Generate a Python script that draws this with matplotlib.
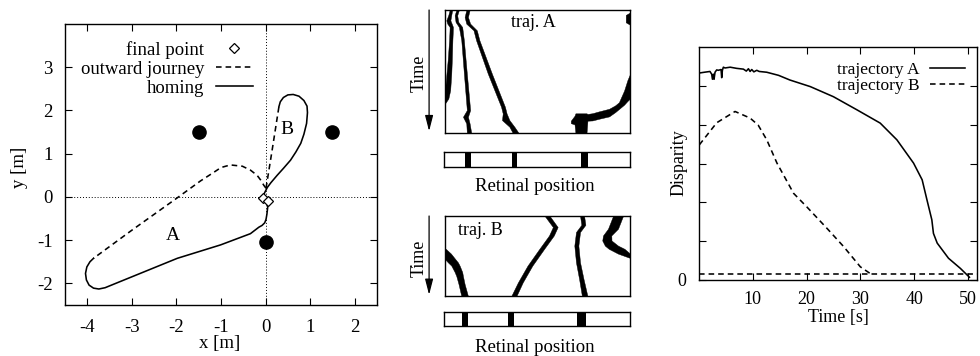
import matplotlib
matplotlib.use('Agg')
import matplotlib.pyplot as plt
from matplotlib.lines import Line2D

# ---- left panel: robot paths in the arena ----
out_a_x = [0.01, -0.04, -0.11, -0.19, -0.34, -0.52, -0.79, -1.00, -1.16, -1.46, -1.98, -3.00, -3.86]
out_a_y = [0.20, 0.27, 0.39, 0.50, 0.62, 0.71, 0.74, 0.68, 0.57, 0.37, -0.02, -0.77, -1.42]
home_a_x = [-3.86, -3.94, -4.01, -4.04, -4.02, -3.96, -3.86, -3.74, -3.60, -3.41, -1.98, -1.01,
            -0.34, -0.15, -0.08, -0.02, 0.01, 0.03, 0.05, 0.06]
home_a_y = [-1.42, -1.50, -1.62, -1.77, -1.92, -2.04, -2.11, -2.13, -2.10, -2.02, -1.42, -1.11,
            -0.85, -0.70, -0.66, -0.60, -0.52, -0.40, -0.22, -0.11]
out_b_x = [0.01, 0.15, 0.30]
out_b_y = [0.20, 1.10, 2.09]
home_b_x = [0.30, 0.33, 0.40, 0.50, 0.62, 0.75, 0.86, 0.93, 0.94, 0.92, 0.86, 0.79, 0.68,
            0.56, 0.40, 0.26, 0.12, 0.04, -0.02, -0.06]
home_b_y = [2.09, 2.20, 2.30, 2.36, 2.37, 2.33, 2.23, 2.10, 1.95, 1.70, 1.45, 1.24, 1.04,
            0.85, 0.66, 0.50, 0.33, 0.22, 0.10, 0.00]
final_x = [-0.06, 0.06]
final_y = [-0.02, -0.10]
landmark_x = [-1.5, 1.5, 0.0]
landmark_y = [1.5, 1.5, -1.05]

# ---- middle panels: landmark images over time (retinal position 0-100, time 0-100) ----
a1_t = [0, 4, 8.4, 11, 13.8, 18, 24.6, 40, 51.6, 65.2, 72, 76]
a1_l = [2.5, 1.8, 0.7, 1.2, 2.5, 2.4, 2.2, 1.5, 0.8, 0.0, 0.0, 0.0]
a1_r = [3.9, 3.4, 2.9, 3.6, 4.3, 4.2, 4.0, 3.7, 3.4, 2.8, 1.8, 0.0]
a2_t = [0, 4.3, 9.7, 13.8, 24.6, 51.6, 81.4, 86.8, 92.2, 100]
a2_l = [6.1, 5.2, 5.7, 7.5, 8.8, 10.2, 11.8, 9.7, 11.5, 11.8]
a2_r = [7.5, 6.6, 7.2, 9.3, 10.2, 11.8, 13.6, 12.4, 13.3, 14.2]
a3_t = [0, 5.7, 11.1, 16.5, 24.6, 51.6, 78.7, 84.1, 89.5, 94.9, 100]
a3_l = [11.5, 10.6, 11.5, 15.4, 16.8, 23.1, 30.3, 31.2, 30.8, 34.8, 36.6]
a3_r = [13.3, 12.4, 13.6, 17.2, 18.6, 25.3, 32.4, 33.3, 34.8, 37.5, 39.8]
a4_x = [68, 70, 70.5, 76.5, 77, 79.7, 83, 88.7, 92, 94, 96.8, 98.6, 100]
a4_top = [90, 86, 84, 84, 84.5, 83.9, 82.5, 80.3, 77.5, 75, 65.5, 57, 52]
a4_bot = [92, 93, 100, 100, 90, 89.8, 88.5, 86.5, 83, 80.5, 77, 74, 72]
a5_x = [97.7, 100]
a5_top = [4, 2]
a5_bot = [10, 12]

b1_t = [41, 47, 54, 58, 62, 70, 75, 85, 100]
b1_l = [0, 0, 0, 1.6, 3.4, 5.2, 6.1, 7.3, 8.8]
b1_r = [0.4, 3.2, 5.6, 7.0, 7.9, 9.3, 9.7, 10.6, 12.4]
b2_t = [0, 13.8, 24.4, 41, 62, 83, 100]
b2_l = [53.9, 58.3, 56.2, 51.0, 44.6, 39.4, 35.8]
b2_r = [56.6, 60.9, 58.8, 53.6, 47.2, 42.0, 38.6]
b3_t = [0, 11, 20, 37, 58, 79, 100]
b3_l = [73.0, 73.7, 70.8, 69.9, 70.8, 72.5, 74.0]
b3_r = [75.2, 75.9, 73.0, 72.1, 73.0, 74.9, 77.0]
b4_t = [0, 15.9, 24.3, 30.6, 37, 41, 47, 52]
b4_l = [90.8, 88.1, 85.4, 85.0, 86.4, 88.5, 93.5, 99.5]
b4_r = [96.2, 93.5, 89.9, 90.0, 93.5, 97.0, 100, 100]

# landmark positions on the retina (left edge, right edge)
strip_a_lo = [11.1, 36.4, 73.5]
strip_a_hi = [14.3, 39.4, 77.6]
strip_b_lo = [9.8, 34.4, 71.7]
strip_b_hi = [12.9, 37.6, 76.2]

# ---- right panel: disparity over time ----
traj_a_t = [0.06, 1.0, 2.04, 2.36, 2.5, 2.67, 2.8, 2.98, 3.29, 3.6, 4.1, 4.22, 4.35, 4.53, 4.84,
            5.8, 7.0, 8.26, 8.8, 9.19, 9.5, 9.81, 10.2, 10.74, 11.2, 12.6, 14.8, 16.9, 20.7,
            25.0, 29.4, 33.7, 36.8, 39.9, 41.5, 42.4, 43.3, 43.6, 44.3, 46.4, 48.6, 50.3]
traj_a_d = [5.33, 5.35, 5.37, 5.30, 5.17, 5.30, 5.17, 5.35, 5.41, 5.40, 5.42, 5.21, 5.40, 5.48, 5.46,
            5.48, 5.45, 5.43, 5.38, 5.44, 5.37, 5.42, 5.36, 5.40, 5.37, 5.35, 5.27, 5.15, 4.98,
            4.72, 4.38, 4.04, 3.61, 3.01, 2.58, 2.06, 1.55, 1.20, 0.95, 0.56, 0.30, 0.07]
traj_b_t = [0.06, 3.3, 6.7, 9.5, 11.0, 12.6, 14.5, 17.6, 20.0, 23.8, 26.9, 30.0, 31.8]
traj_b_d = [3.48, 4.05, 4.34, 4.17, 3.99, 3.61, 3.01, 2.23, 1.89, 1.33, 0.86, 0.34, 0.17]
threshold = 0.15

plt.rcParams['font.family'] = ['Liberation Serif', 'DejaVu Serif']
plt.rcParams['font.size'] = 13.5
plt.rcParams['axes.unicode_minus'] = False
plt.rcParams['axes.linewidth'] = 1.0
plt.rcParams['xtick.direction'] = 'in'
plt.rcParams['ytick.direction'] = 'in'
plt.rcParams['xtick.top'] = True
plt.rcParams['ytick.right'] = True
plt.rcParams['xtick.major.size'] = 5
plt.rcParams['ytick.major.size'] = 5
plt.rcParams['xtick.major.pad'] = 10
plt.rcParams['ytick.major.pad'] = 9

W, H = 980, 356
fig = plt.figure(figsize=(W / 100, H / 100), dpi=100)


def box(x0, y0, x1, y1):
    return fig.add_axes([x0 / W, 1 - y1 / H, (x1 - x0) / W, (y1 - y0) / H])


dash = (3.5, 2.5)
lw = 1.15

# left panel
ax = box(65, 24, 377, 305)
ax.axhline(0, color='k', ls=(0, (1, 2)), lw=0.7)
ax.axvline(0, color='k', ls=(0, (1, 2)), lw=0.7)
ax.plot(out_a_x, out_a_y, color='k', lw=lw, ls='--', dashes=dash)
ax.plot(out_b_x, out_b_y, color='k', lw=lw, ls='--', dashes=dash)
ax.plot(home_a_x, home_a_y, color='k', lw=lw)
ax.plot(home_b_x, home_b_y, color='k', lw=lw)
ax.plot(landmark_x, landmark_y, 'o', color='k', ms=9.5)
ax.plot(final_x, final_y, 'D', mfc='white', mec='k', mew=0.9, ms=5, zorder=5)
ax.text(-2.07, -0.9, 'A', ha='center', va='center', fontsize=14)
ax.text(0.47, 1.56, 'B', ha='center', va='center', fontsize=14)
ax.set_xlim(-4.5, 2.5)
ax.set_ylim(-2.5, 4)
ax.set_xticks(range(-4, 3))
ax.set_yticks(range(-2, 4))
ax.set_xlabel('x [m]')
ax.set_ylabel('y [m]')
ax.xaxis.set_label_coords(0.494, -0.108)
ax.yaxis.set_label_coords(-0.12, 0.491)
handles = [Line2D([], [], marker='D', ls='none', mfc='white', mec='k', mew=0.9, ms=5),
           Line2D([], [], color='k', lw=lw, ls='--', dashes=dash),
           Line2D([], [], color='k', lw=lw)]
ax.legend(handles, ['final point', 'outward journey', 'homing'], loc='upper right',
          bbox_to_anchor=(0.603, 0.94), frameon=False, markerfirst=False,
          handlelength=2.0, handletextpad=0.6, labelspacing=0.1, borderpad=0,
          borderaxespad=0, numpoints=1)


def image_panel(y0, y1):
    a = box(445, y0, 630, y1)
    a.set_xlim(0, 100)
    a.set_ylim(100, 0)
    a.set_xticks([])
    a.set_yticks([])
    return a


def strip_panel(y0, y1, lo, hi):
    s = box(444, y0, 630, y1)
    s.set_xlim(0, 100)
    s.set_ylim(0, 1)
    s.bar(lo, 1, width=[h - l for l, h in zip(lo, hi)], align='edge', color='k')
    s.set_xticks([])
    s.set_yticks([])
    return s


def time_arrow(a, ytext):
    a.annotate('', xy=(-0.086, 0.015), xytext=(-0.086, 1.0), xycoords='axes fraction',
               arrowprops=dict(arrowstyle='-|>,head_length=0.7,head_width=0.18',
                               color='k', lw=0.9, shrinkA=0, shrinkB=0))
    a.text(-0.14, ytext, 'Time', rotation=90, ha='center', va='center',
           transform=a.transAxes, fontsize=13)


# trajectory A image
im_a = image_panel(10, 133)
for t, l, r in [(a1_t, a1_l, a1_r), (a2_t, a2_l, a2_r), (a3_t, a3_l, a3_r)]:
    im_a.fill_betweenx(t, l, r, color='k', lw=0.3)
im_a.fill_between(a4_x, a4_top, a4_bot, color='k', lw=0.3)
im_a.fill_between(a5_x, a5_top, a5_bot, color='k', lw=0.3)
im_a.text(47.8, 10.5, 'traj. A', ha='center', va='center', fontsize=13)
time_arrow(im_a, 0.484)
strip_panel(152, 167, strip_a_lo, strip_a_hi)
fig.text(535 / W, 1 - 186 / H, 'Retinal position', ha='center', va='center', fontsize=13.5)

# trajectory B image
im_b = image_panel(216, 296)
for t, l, r in [(b1_t, b1_l, b1_r), (b2_t, b2_l, b2_r), (b3_t, b3_l, b3_r), (b4_t, b4_l, b4_r)]:
    im_b.fill_betweenx(t, l, r, color='k', lw=0.3)
im_b.text(19.2, 18, 'traj. B', ha='center', va='center', fontsize=13)
time_arrow(im_b, 0.47)
strip_panel(312, 326, strip_b_lo, strip_b_hi)
fig.text(535 / W, 1 - 347 / H, 'Retinal position', ha='center', va='center', fontsize=13.5)

# right panel
rx = box(699, 47, 977, 280)
rx.plot(traj_a_t, traj_a_d, color='k', lw=lw, label='trajectory A')
rx.plot(traj_b_t, traj_b_d, color='k', lw=lw, ls='--', dashes=dash, label='trajectory B')
rx.axhline(threshold, color='k', lw=lw, ls='--', dashes=dash)
rx.set_xlim(0, 51.7)
rx.set_ylim(0, 6)
rx.set_xticks([10, 20, 30, 40, 50])
rx.set_yticks([0, 1, 2, 3, 4, 5])
rx.set_yticklabels(['0', '', '', '', '', ''])
rx.tick_params(labelsize=13)
rx.tick_params(axis='x', pad=8)
rx.set_xlabel('Time [s]', fontsize=13)
rx.set_ylabel('Disparity', fontsize=13)
rx.xaxis.set_label_coords(0.5, -0.125)
rx.yaxis.set_label_coords(-0.04, 0.502)
rx.legend(loc='upper right', bbox_to_anchor=(0.957, 0.935), frameon=False, markerfirst=False,
          handlelength=2.0, handletextpad=0.6, labelspacing=0.0, borderpad=0, borderaxespad=0,
          fontsize=12.5)

fig.savefig('out.png', dpi=100)
